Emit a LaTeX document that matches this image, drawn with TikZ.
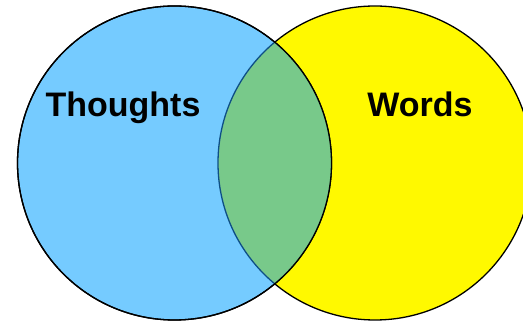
\documentclass[tikz,border=0pt]{standalone}
\usepackage{fontspec}
\setmainfont{Liberation Sans}
\usepackage{xcolor}
\definecolor{thoughtblue}{HTML}{75CBFF}
\definecolor{wordyellow}{HTML}{FFF900}
\definecolor{bothgreen}{HTML}{78C98A}
\definecolor{edgeblue}{HTML}{0E4F86}

\begin{document}
\begin{tikzpicture}[
    x=1pt, y=1pt,
    thick,
    set circle/.style={circle, draw=black, line width=1.3pt, minimum size=314pt, inner sep=0pt},
    set label/.style={anchor=base, font=\fontsize{34}{36}\selectfont\bfseries}
]
    \useasboundingbox (0,0) rectangle (523,321);

    % Sets
    \node[set circle, fill=wordyellow] (W) at (375,158) {};
    \node[set circle, fill=thoughtblue] (T) at (174.5,158) {};

    % Overlap
    \begin{scope}
        \clip (T.center) circle (157pt);
        \fill[bothgreen] (W.center) circle (157pt);
        \draw[edgeblue, line width=1.3pt] (W.center) circle (157pt);
    \end{scope}
    \draw[line width=1.3pt] (T.center) circle (157pt);

    % Labels
    \node[set label] (TL) at (123,204) {Thoughts};
    \node[set label] (WL) at (420,204) {Words};
\end{tikzpicture}
\end{document}
